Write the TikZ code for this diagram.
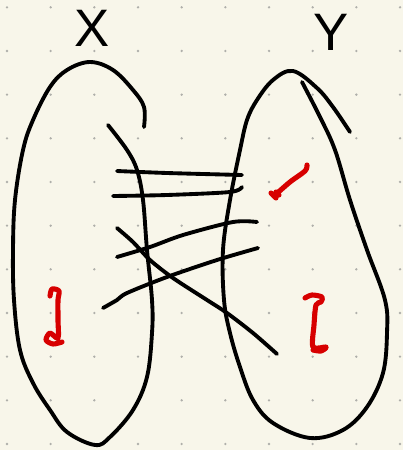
\documentclass[tikz,border=0pt]{standalone}
\usepackage{fontspec}
\setsansfont{Liberation Sans}
\usepackage{tikz}
\usetikzlibrary{calc}
\definecolor{paper}{RGB}{248,246,234}
\definecolor{griddot}{RGB}{175,175,170}
\definecolor{ink}{RGB}{0,0,0}
\definecolor{mark}{RGB}{215,0,0}
\tikzset{
  pen/.style={draw=ink, line width=2.2pt, line cap=round, line join=round},
  redpen/.style={draw=mark, line width=2.9pt, line cap=round, line join=round},
  setname/.style={font=\sffamily\fontsize{30}{30}\selectfont, text=ink, inner sep=0pt}
}

\begin{document}
\begin{tikzpicture}[x=0.02cm, y=-0.02cm]
  % paper and dot grid
  \fill[paper] (0,0) rectangle (403,450);
  \useasboundingbox (0,0) rectangle (403,450);
  \foreach \i in {0,...,9}
    \foreach \j in {0,...,10}
      \fill[griddot] (7+43.67*\i, 7.3+43.67*\j) circle (0.026cm);

  % set labels
  \node[setname] (lblx) at (92,28) {X};
  \node[setname] (lbly) at (331,32) {Y};

  % set X
  \draw[pen] plot[smooth, tension=0.6] coordinates {
    (108,125) (127,150) (137,170) (143,200) (147,250) (152,300) (152,333)
    (147,377) (133,410) (110,437) (95,445) (67,432) (50,410) (33,383)
    (20,350) (14,300) (13,250) (15,200) (23,150) (33,120) (50,87) (67,70)
    (90,62) (113,70) (133,90) (144,107) (144,127)};

  % set Y
  \draw[pen] plot[smooth, tension=0.6] coordinates {
    (350,132) (333,107) (317,88) (293,71) (273,80) (257,100) (247,120)
    (240,150) (230,200) (223,250) (224,300) (230,333) (240,367) (253,400)
    (273,423) (310,438) (343,430) (367,407) (383,373) (387,333) (385,300)
    (367,250) (350,200) (335,150) (320,117) (302,82)};

  % crossing strokes
  \draw[pen] plot[smooth] coordinates {(117,171) (167,173) (242,175)};
  \draw[pen] plot[smooth] coordinates {(113,196) (167,195) (230,192) (242,187)};
  \draw[pen] plot[smooth] coordinates {(117,257) (150,247) (183,235) (233,222) (257,222)};
  \draw[pen] plot[smooth] coordinates {(103,308) (117,300) (127,293) (167,277) (217,260) (258,248)};
  \draw[pen] plot[smooth] coordinates {(117,228) (133,242) (150,260) (173,278) (207,300) (227,313) (253,333) (277,354)};

  % red marks
  \draw[redpen] plot[smooth] coordinates {(307,165) (305,171) (290,182) (274,196)};
  \draw[redpen] (271,193) -- (276,198) (276,192) -- (279,195);
  \draw[redpen] plot[smooth] coordinates {(50,296) (52,289) (59,291) (58,300) (58,320) (58,338) (50,333) (46,340) (53,344) (62,342)};
  \draw[redpen] plot[smooth] coordinates {(305,298) (312,295) (322,297) (321,302) (316,305) (314,325) (313,347) (326,347) (321,351) (313,350)};
\end{tikzpicture}
\end{document}
